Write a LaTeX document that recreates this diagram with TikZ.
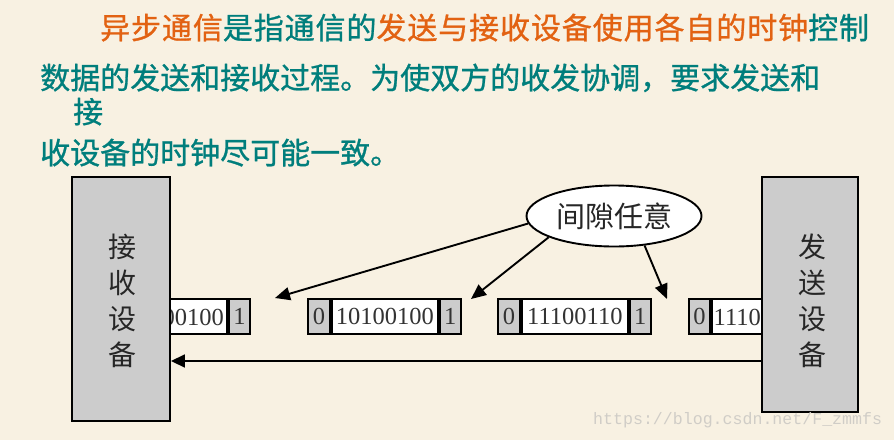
\documentclass[tikz,border=0pt]{standalone}
\usepackage{fontspec}
\usetikzlibrary{arrows.meta,shapes.geometric}
\newfontfamily\cjk{Noto Sans CJK SC}
\newfontfamily\cjkhead{Noto Sans CJK SC}[FakeBold=0.9]
\newfontfamily\digitfont{Liberation Serif}
\newfontfamily\urlfont{Liberation Mono}
\definecolor{paper}{RGB}{248,241,226}
\definecolor{hiorange}{RGB}{226,98,18}
\definecolor{bodyteal}{RGB}{0,126,124}
\definecolor{devgray}{RGB}{204,204,204}
\definecolor{urlgray}{RGB}{208,205,199}
\begin{document}
\begin{tikzpicture}[x=1pt,y=-1pt,
  heading/.style={anchor=base west,inner sep=0pt,text=bodyteal,
    font=\cjkhead\fontsize{30}{30}\selectfont},
  device/.style={draw=black,line width=1.9pt,fill=devgray},
  devlabel/.style={align=center,inner sep=0pt,text=black!85,
    font=\cjk\fontsize{28}{36}\selectfont},
  bitcell/.style={draw=black,line width=1.9pt,fill=devgray,minimum height=35pt,
    inner sep=0pt,font=\digitfont\fontsize{24.5}{24.5}\selectfont,text=black!80},
  datacell/.style={bitcell,fill=white},
  bits/.style={inner sep=0pt,font=\digitfont\fontsize{24.5}{24.5}\selectfont,text=black!80},
  gaparrow/.style={line width=1.9pt,-{Triangle[length=15pt,width=13pt]}},
  linkarrow/.style={line width=1.7pt,-{Triangle[length=14pt,width=13pt]}}
]
% paper background
\fill[paper] (0,0) rectangle (894,440);
\useasboundingbox (0,0) rectangle (894,440);

% heading text
\node[heading] (line1) at (100,39) {\addfontfeature{LetterSpace=3}\textcolor{hiorange}{异步通信}是指通信的\textcolor{hiorange}{发送与接收设备使用各自的时钟}控制};
\node[heading] (line2) at (40,89) {数据的发送和接收过程。为使双方的收发协调，要求发送和};
\node[heading] (line3) at (73,123) {接};
\node[heading] (line4) at (40,164) {收设备的时钟尽可能一致。};

% character frames: start bit, data bits, stop bit
% frame A (its start runs into the receiver)
\node[datacell,minimum width=58pt,anchor=east] (adata) at (228,316.5) {};
\node[bitcell,minimum width=21pt,anchor=west] (astop) at (adata.east) {1};
\begin{scope}
  \clip (170,290) rectangle (228,340);
  \node[bits,anchor=east] (abits) at (224,317) {00100};
\end{scope}
% frame B
\node[bitcell,minimum width=22pt,anchor=west] (bstart) at (307,316.5) {0};
\node[datacell,minimum width=106pt,anchor=west] (bdata) at (bstart.east) {10100100};
\node[bitcell,minimum width=21pt,anchor=west] (bstop) at (bdata.east) {1};
% frame C
\node[bitcell,minimum width=22pt,anchor=west] (cstart) at (497,316.5) {0};
\node[datacell,minimum width=106pt,anchor=west] (cdata) at (cstart.east) {11100110};
\node[bitcell,minimum width=21pt,anchor=west] (cstop) at (cdata.east) {1};
% frame D (its end runs into the sender)
\node[bitcell,minimum width=21pt,anchor=west] (dstart) at (688,316.5) {0};
\node[datacell,minimum width=60pt,anchor=west] (ddata) at (dstart.east) {};
\node[bits,anchor=west] (dbits) at (713.5,317) {1110};

% receiving and sending devices
\node[device,minimum width=98pt,minimum height=244pt,inner sep=0pt] (recv) at (121,299) {};
\node[device,minimum width=96pt,minimum height=235pt,inner sep=0pt] (send) at (810,294.5) {};
\node[devlabel] (recvlabel) at (122,301) {接\\收\\设\\备};
\node[devlabel] (sendlabel) at (812,301) {发\\送\\设\\备};

% transmission line from sender to receiver
\coordinate (lineend) at (recv.east |- 0,361);
\draw[linkarrow] (send.west |- lineend) -- (lineend);

% arbitrary gaps
\node[ellipse,draw=black,line width=1.9pt,fill=white,minimum width=175pt,
  minimum height=61pt,inner sep=0pt,font=\cjk\fontsize{29}{29}\selectfont,text=black!85]
  (gap) at (614,216) {间隙任意};
\coordinate (gap1) at (275,298);
\coordinate (gap2) at (471,299);
\coordinate (gap3) at (667,299);
\draw[gaparrow] (gap.185) -- (gap1);
\draw[gaparrow] (gap.198) -- (gap2);
\draw[gaparrow] (gap.316) -- (gap3);

% source link
\node[anchor=west,inner sep=0pt,text=urlgray,font=\urlfont\fontsize{16.6}{16.6}\selectfont]
  (source) at (593,420) {https://blog.csdn.net/F\_zmmfs};
\end{tikzpicture}
\end{document}
